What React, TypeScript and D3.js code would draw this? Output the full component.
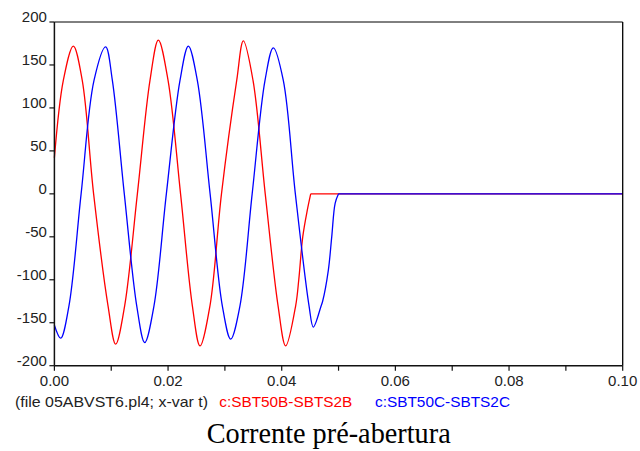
import React from "react";
import * as d3 from "d3";

// Series B (red): c:SBT50B-SBTS2B  (t in s, current)
const timesB = [
  0.0, 0.00157, 0.00333, 0.0049, 0.0069, 0.00943, 0.01078, 0.01237, 0.0146, 0.01682,
  0.01829, 0.02, 0.0222, 0.02427, 0.02562, 0.02738, 0.0294, 0.03208, 0.03325, 0.03495,
  0.0371, 0.03935, 0.0407, 0.04246, 0.043, 0.0437, 0.0445, 0.0451, 0.1,
];
const valuesB = [
  42, 132, 172, 132, 0, -130, -175, -130, 0, 132,
  179, 132, 0, -130, -177, -130, 0, 132, 178, 132,
  0, -130, -177, -130, -100, -50, -19, 0, 0,
];

// Series C (blue): c:SBT50C-SBTS2C
const timesC = [
  0.0, 0.0011, 0.00257, 0.0047, 0.00697, 0.00902, 0.0102, 0.0123, 0.01448, 0.01589,
  0.01753, 0.0197, 0.0221, 0.02357, 0.02515, 0.0274, 0.02954, 0.03102, 0.03266, 0.0348,
  0.03706, 0.03852, 0.04028, 0.0424, 0.0448, 0.04556, 0.0469, 0.0472, 0.0482, 0.0488,
  0.0494, 0.05, 0.1,
];
const valuesC = [
  -153, -168, -130, 0, 132, 171, 132, 0, -130, -173,
  -130, 0, 132, 172, 132, 0, -130, -169, -130, 0,
  132, 170, 132, 0, -130, -155, -131, -125, -89, -50,
  -11, 0, 0,
];

const xTicks = [0, 0.01, 0.02, 0.03, 0.04, 0.05, 0.06, 0.07, 0.08, 0.09, 0.1];
const xLabels = ["0.00", "", "0.02", "", "0.04", "", "0.06", "", "0.08", "", "0.10"];
const yTicks = [-200, -150, -100, -50, 0, 50, 100, 150, 200];

const footerLabel = "(file 05ABVST6.pl4; x-var t)";
const seriesNames = ["c:SBT50B-SBTS2B", "c:SBT50C-SBTS2C"];
const title = "Corrente pré-abertura";

export default function App() {
  const W = 640;
  const H = 451;
  const left = 54.4;
  const right = 622.7;
  const top = 22;
  const bottom = 365.7;

  const x = d3.scaleLinear().domain([0, 0.1]).range([left, right]);
  const y = d3.scaleLinear().domain([-200, 200]).range([bottom, top]);

  const smooth = d3
    .line<[number, number]>()
    .x((d) => x(d[0]))
    .y((d) => y(d[1]))
    .curve(d3.curveCatmullRom.alpha(0.5));
  const straight = d3
    .line<[number, number]>()
    .x((d) => x(d[0]))
    .y((d) => y(d[1]));

  const build = (ts: number[], vs: number[]) => {
    const pts: [number, number][] = ts.map((t, i) => [t, vs[i]]);
    const n = pts.length;
    return (smooth(pts.slice(0, n - 1)) || "") + " " + (straight(pts.slice(n - 2)) || "");
  };

  const font = "'Liberation Sans', Arial, sans-serif";

  return (
    <div style={{ position: "absolute", left: 0, top: 0 }}>
      <svg width={W} height={H} viewBox={`0 0 ${W} ${H}`} style={{ display: "block", background: "#fff" }}>
        <rect x={0} y={0} width={W} height={H} fill="#fff" />
        <path d={build(timesB, valuesB)} fill="none" stroke="#ff0000" strokeWidth={1.3} />
        <path d={build(timesC, valuesC)} fill="none" stroke="#0000ff" strokeWidth={1.3} />

        <line x1={left} x2={right} y1={top} y2={top} stroke="#000" strokeWidth={1} />
        <line x1={right} x2={right} y1={top} y2={bottom} stroke="#000" strokeWidth={1.3} />
        <line x1={left} x2={left} y1={top} y2={bottom} stroke="#111" strokeWidth={1.5} />
        <line x1={left} x2={right} y1={bottom} y2={bottom} stroke="#111" strokeWidth={1.5} />

        {yTicks.map((v) => (
          <g key={"y" + v}>
            <line x1={left - 5} x2={left} y1={y(v)} y2={y(v)} stroke="#111" strokeWidth={1.2} />
            <text x={left - 7.5} y={y(v)} textAnchor="end" fontFamily={font} fontSize={15} fill="#222">
              {v}
            </text>
          </g>
        ))}

        {xTicks.map((t, i) => (
          <g key={"x" + i}>
            <line x1={x(t)} x2={x(t)} y1={bottom} y2={bottom + 5} stroke="#111" strokeWidth={1.2} />
            {xLabels[i] && (
              <text x={x(t)} y={386} textAnchor="middle" fontFamily={font} fontSize={15} fill="#222">
                {xLabels[i]}
              </text>
            )}
          </g>
        ))}

        <text x={15} y={407} fontFamily={font} fontSize={15} textLength={193} lengthAdjust="spacingAndGlyphs" fill="#222">
          {footerLabel}
        </text>
        <text x={219.3} y={407} fontFamily={font} fontSize={15} textLength={133} lengthAdjust="spacingAndGlyphs" fill="#ff0000">
          {seriesNames[0]}
        </text>
        <text x={375} y={407} fontFamily={font} fontSize={15} textLength={135} lengthAdjust="spacingAndGlyphs" fill="#0000ff">
          {seriesNames[1]}
        </text>

        <text
          x={206.7}
          y={442.5}
          fontFamily="'Liberation Serif', 'Times New Roman', serif"
          fontSize={29}
          textLength={244}
          lengthAdjust="spacingAndGlyphs"
          fill="#000"
        >
          {title}
        </text>
      </svg>
    </div>
  );
}
